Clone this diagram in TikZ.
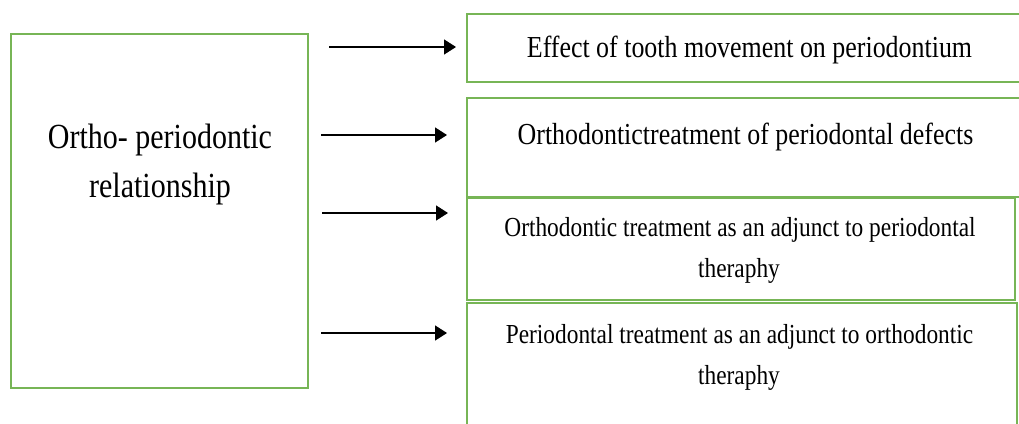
\documentclass[tikz,border=0pt]{standalone}
\usepackage{fontspec}
\setmainfont[FakeStretch=0.85]{Liberation Serif}
\usetikzlibrary{arrows.meta}
\definecolor{boxgreen}{HTML}{77B556}
\tikzset{
  box/.style={draw=boxgreen, line width=2pt, fill=none, inner sep=0pt},
  bigtxt/.style={font=\fontsize{35.3}{40}\selectfont, inner sep=0pt, anchor=base},
  midtxt/.style={font=\fontsize{30.5}{36}\selectfont, inner sep=0pt, anchor=base},
  smalltxt/.style={font=\fontsize{27.5}{32}\selectfont, inner sep=0pt, anchor=base},
  conn/.style={line width=1.4pt, black, -{Triangle[length=12pt,width=15pt]}}
}
\begin{document}
\begin{tikzpicture}[x=1pt,y=-1pt]
\useasboundingbox (0,0) rectangle (1019,423);
\clip (0,0) rectangle (1019,423);
\fill[white] (0,0) rectangle (1019,423);
% boxes
\draw[box] (11,34) rectangle (308,388) node[pos=0.5] (L) {};
\draw[box] (467,14) rectangle (1030,82) node[pos=0.5] (B1) {};
\draw[box] (467,98) rectangle (1030,197) node[pos=0.5] (B2) {};
\draw[box] (467,198) rectangle (1015,300) node[pos=0.5] (B3) {};
\draw[box] (467,303) rectangle (1017,440) node[pos=0.5] (B4) {};
% texts
\node[bigtxt] (Lt1) at (160,148) {Ortho- periodontic};
\node[bigtxt] (Lt2) at (160,197) {relationship};
\node[midtxt] (B1t) at (749.5,57) {Effect of tooth movement on periodontium};
\node[midtxt] (B2t) at (745.5,144) {Orthodontictreatment of periodontal defects};
\node[smalltxt] (B3t1) at (740,236.5) {Orthodontic treatment as an adjunct to periodontal};
\node[smalltxt] (B3t2) at (739,277) {theraphy};
\node[smalltxt] (B4t1) at (739.5,343) {Periodontal treatment as an adjunct to orthodontic};
\node[smalltxt] (B4t2) at (739,384) {theraphy};
% arrow ends
\coordinate (s1) at (329,47);  \coordinate (e1) at (456,47);
\coordinate (s2) at (321,135); \coordinate (e2) at (447,135);
\coordinate (s3) at (322,213); \coordinate (e3) at (448,213);
\coordinate (s4) at (321,333); \coordinate (e4) at (447,333);
\draw[conn] (s1) -- (e1);
\draw[conn] (s2) -- (e2);
\draw[conn] (s3) -- (e3);
\draw[conn] (s4) -- (e4);
\end{tikzpicture}
\end{document}
